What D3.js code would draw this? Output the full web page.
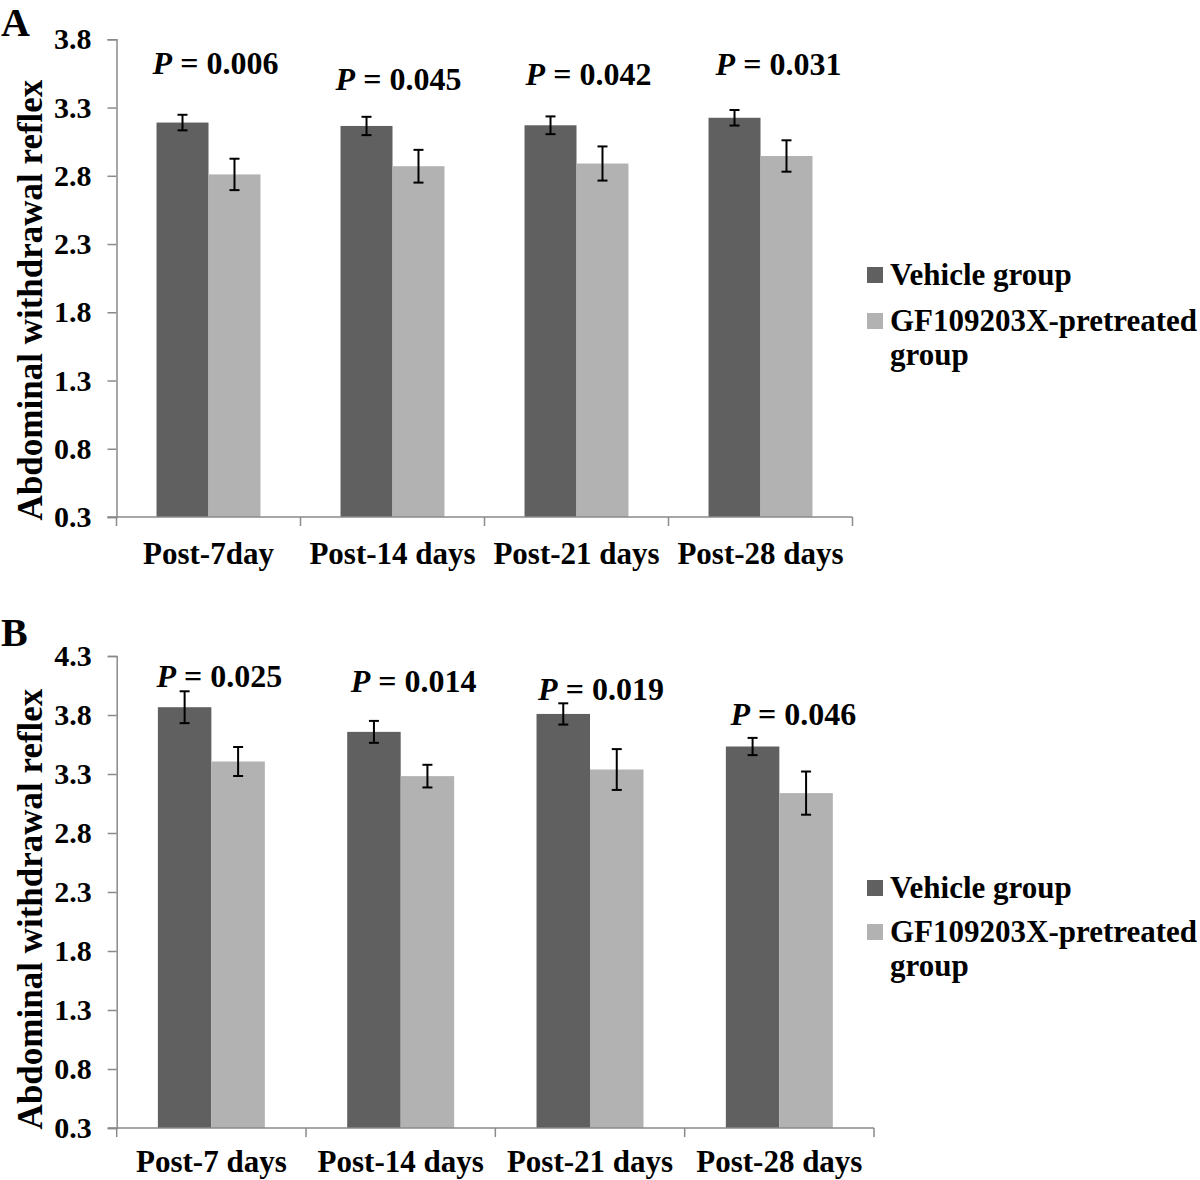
<!DOCTYPE html>
<html><head><meta charset="utf-8">
<script src="https://cdn.jsdelivr.net/npm/d3@7"></script>
<style>
html,body{margin:0;padding:0;background:#fff;}
svg text{font-family:"Liberation Serif","Times New Roman",serif;font-weight:bold;fill:#000;}
</style></head>
<body>
<svg id="chart" width="1200" height="1180"></svg>
<script>
// ---- data ----
const seriesNames = ["Vehicle group", "GF109203X-pretreated group"];
const categoriesA = ["Post-7day", "Post-14 days", "Post-21 days", "Post-28 days"];
const vehicleA = [3.19, 3.165, 3.17, 3.225];
const vehicleErrA = [0.057, 0.067, 0.065, 0.057];
const gfA = [2.81, 2.87, 2.89, 2.945];
const gfErrA = [0.115, 0.12, 0.125, 0.115];
const pValuesA = ["0.006", "0.045", "0.042", "0.031"];
const pLabelLevelA = [3.545, 3.428, 3.465, 3.538];
const ticksA = [0.3, 0.8, 1.3, 1.8, 2.3, 2.8, 3.3, 3.8];

const categoriesB = ["Post-7 days", "Post-14 days", "Post-21 days", "Post-28 days"];
const vehicleB = [3.866, 3.657, 3.809, 3.533];
const vehicleErrB = [0.135, 0.093, 0.09, 0.073];
const gfB = [3.406, 3.282, 3.338, 3.138];
const gfErrB = [0.123, 0.096, 0.173, 0.183];
const pValuesB = ["0.025", "0.014", "0.019", "0.046"];
const pLabelLevelB = [4.038, 3.995, 3.927, 3.715];
const ticksB = [0.3, 0.8, 1.3, 1.8, 2.3, 2.8, 3.3, 3.8, 4.3];

const yTitle = "Abdominal withdrawal reflex";

// ---- layout ----
const colors = ["#606060", "#b2b2b2"];
const axisColor = "#8a8a8a";
const svg = d3.select("#chart");

const panels = [
  { letter: "A", letterY: 36, cats: categoriesA, series: [vehicleA, gfA], errs: [vehicleErrA, gfErrA],
    p: pValuesA, pLevel: pLabelLevelA, pDx: [7, 6, 12, 18], ticks: ticksA,
    xRange: [116.5, 852.5], yRange: [517, 39.3], labelY: 564, legendY: [285, 331, 365], titleY: 300 },
  { letter: "B", letterY: 646, cats: categoriesB, series: [vehicleB, gfB], errs: [vehicleErrB, gfErrB],
    p: pValuesB, pLevel: pLabelLevelB, pDx: [8, 13, 11, 14], ticks: ticksB,
    xRange: [116.7, 874], yRange: [1128, 656], labelY: 1172, legendY: [898, 942, 976], titleY: 909 }
];

panels.forEach(P => {
  const g = svg.append("g");
  const y = d3.scaleLinear().domain([P.ticks[0], P.ticks[P.ticks.length - 1]]).range(P.yRange);
  const x0 = d3.scaleBand().domain(P.cats).range(P.xRange).paddingInner(0.435).paddingOuter(0.2175);
  const x1 = d3.scaleBand().domain([0, 1]).range([0, x0.bandwidth()]);
  const step = x0.step();
  const base = y(P.ticks[0]);

  // bars
  P.series.forEach((vals, si) => {
    g.selectAll(null).data(vals).enter().append("rect")
      .attr("x", (d, i) => x0(P.cats[i]) + x1(si))
      .attr("width", x1.bandwidth())
      .attr("y", d => y(d))
      .attr("height", d => base - y(d))
      .attr("fill", colors[si]);
  });

  // y axis
  const yAxis = d3.axisLeft(y).tickValues(P.ticks).tickFormat(d3.format(".1f")).tickSize(9).tickPadding(16);
  const ya = g.append("g").attr("transform", `translate(${P.xRange[0]},0)`).call(yAxis);
  ya.select(".domain").attr("stroke", axisColor).attr("stroke-width", 1.5);
  ya.selectAll(".tick line").attr("stroke", axisColor).attr("stroke-width", 1.5);
  ya.selectAll(".tick text").style("font-size", "30px").attr("fill", "#000")
    .style("font-family", '"Liberation Serif", serif').style("font-weight", "bold");

  // x axis: line and boundary ticks
  g.append("line").attr("x1", P.xRange[0] - 9).attr("x2", P.xRange[1])
    .attr("y1", base).attr("y2", base).attr("stroke", axisColor).attr("stroke-width", 1.5);
  d3.range(P.cats.length + 1).forEach(i => {
    const xx = P.xRange[0] + i * step;
    g.append("line").attr("x1", xx).attr("x2", xx).attr("y1", base).attr("y2", base + 9)
      .attr("stroke", axisColor).attr("stroke-width", 1.5);
  });
  g.selectAll(null).data(P.cats).enter().append("text")
    .attr("x", d => x0(d) + x0.bandwidth() / 2)
    .attr("y", P.labelY)
    .attr("text-anchor", "middle")
    .style("font-size", "31px")
    .text(d => d);

  // error bars
  P.series.forEach((vals, si) => {
    vals.forEach((v, i) => {
      const cx = x0(P.cats[i]) + x1(si) + x1.bandwidth() / 2;
      const e = P.errs[si][i];
      const top = y(v + e), bot = y(v - e);
      g.append("line").attr("x1", cx).attr("x2", cx).attr("y1", top).attr("y2", bot)
        .attr("stroke", "#000").attr("stroke-width", 2);
      [top, bot].forEach(yy => g.append("line").attr("x1", cx - 5).attr("x2", cx + 5)
        .attr("y1", yy).attr("y2", yy).attr("stroke", "#000").attr("stroke-width", 2));
    });
  });

  // P labels
  P.p.forEach((pv, i) => {
    const t = g.append("text")
      .attr("x", x0(P.cats[i]) + x0.bandwidth() / 2 + P.pDx[i])
      .attr("y", y(P.pLevel[i]))
      .attr("text-anchor", "middle")
      .style("font-size", "32px");
    t.append("tspan").style("font-style", "italic").text("P");
    t.append("tspan").text(" = " + pv);
  });

  // y title
  g.append("text")
    .attr("transform", `translate(42,${P.titleY}) rotate(-90)`)
    .attr("text-anchor", "middle")
    .style("font-size", "35px")
    .text(yTitle);

  // panel letter
  g.append("text").attr("x", 1).attr("y", P.letterY).style("font-size", "40px").text(P.letter);

  // legend
  const lg = g.append("g");
  lg.append("rect").attr("x", 867).attr("y", P.legendY[0] - 18).attr("width", 16).attr("height", 16).attr("fill", colors[0]);
  lg.append("text").attr("x", 890).attr("y", P.legendY[0]).style("font-size", "31px").text(seriesNames[0]);
  lg.append("rect").attr("x", 867).attr("y", P.legendY[1] - 18).attr("width", 16).attr("height", 16).attr("fill", colors[1]);
  const words = seriesNames[1].split(" ");
  lg.append("text").attr("x", 890).attr("y", P.legendY[1]).style("font-size", "31px").text(words[0]);
  lg.append("text").attr("x", 890).attr("y", P.legendY[2]).style("font-size", "31px").text(words[1]);
});
</script>
</body></html>
